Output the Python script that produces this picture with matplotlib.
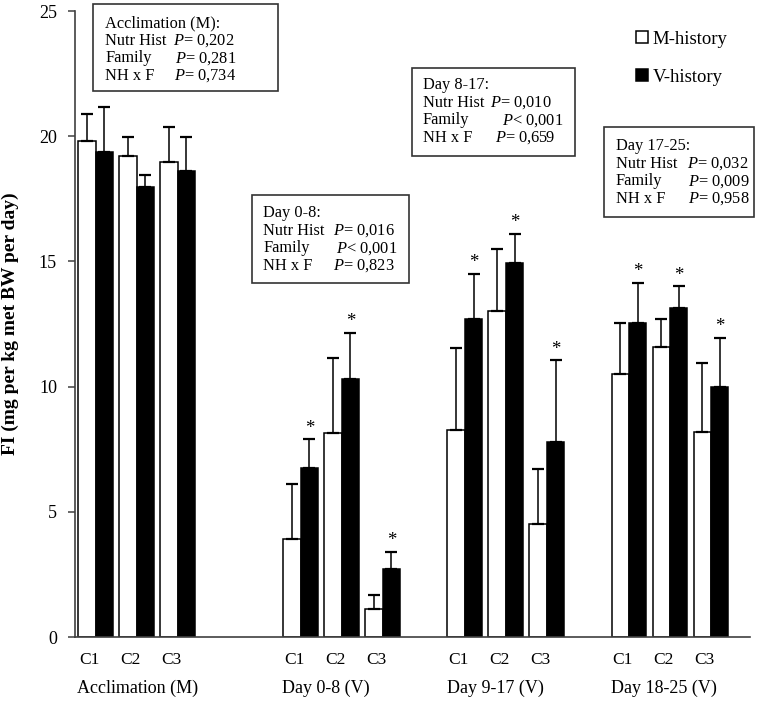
import matplotlib
matplotlib.use("Agg")
import matplotlib.pyplot as plt
from matplotlib.patches import Rectangle
from matplotlib.transforms import blended_transform_factory
import numpy as np

plt.rcParams['font.family'] = ['Liberation Serif', 'DejaVu Serif']
plt.rcParams['mathtext.fontset'] = 'custom'
plt.rcParams['mathtext.rm'] = 'Liberation Serif'
plt.rcParams['mathtext.it'] = 'Liberation Serif:italic'

# ---------------- data ----------------
groups = ["Acclimation (M)", "Day 0-8 (V)", "Day 9-17 (V)", "Day 18-25 (V)"]
families = ["C1", "C2", "C3"]
m_mean = [19.8, 19.2, 18.95, 3.9, 8.15, 1.1, 8.25, 13.0, 4.5, 10.5, 11.6, 8.2]
m_err = [1.1, 0.75, 1.4, 2.2, 3.0, 0.57, 3.3, 2.5, 2.2, 2.05, 1.1, 2.75]
v_mean = [19.35, 17.97, 18.63, 6.75, 10.3, 2.7, 12.7, 14.95, 7.8, 12.55, 13.15, 10.0]
v_err = [1.8, 0.5, 1.35, 1.15, 1.85, 0.7, 1.8, 1.15, 3.25, 1.6, 0.85, 1.95]
signif = [False, False, False, True, True, True, True, True, True, True, True, True]
series_names = ["M-history", "V-history"]
y_ticks = [0, 5, 10, 15, 20, 25]
y_label = "FI (mg per kg met BW per day)"

box_titles = ["Acclimation (M):", "Day 0-8:", "Day 8-17:", "Day 17-25:"]
row_names = ["Nutr Hist", "Family", "NH x F"]
box_ops = [["=", "=", "="], ["=", "<", "="], ["=", "<", "="], ["=", "=", "="]]
box_pvals = [["0,202", "0,281", "0,734"],
             ["0,016", "0,001", "0,823"],
             ["0,010", "0,001", "0,659"],
             ["0,032", "0,009", "0,958"]]

# ---------------- layout ----------------
W, H = 776, 704
fig = plt.figure(figsize=(W / 100, H / 100), dpi=100)
ax_l, ax_r, ax_b, ax_t = 75, 750, 637, 11
ax = fig.add_axes([ax_l / W, 1 - ax_b / H, (ax_r - ax_l) / W, (ax_b - ax_t) / H])

group_start = [0, 5, 9, 13]
pos = np.array([g + k for g in group_start for k in range(3)], dtype=float)
bw = 0.425

ax.bar(pos - bw / 2, m_mean, bw, color="white", edgecolor="black", linewidth=1.1,
       label=series_names[0], zorder=2)
ax.bar(pos + bw / 2, v_mean, bw, color="black", edgecolor="black", linewidth=1.1,
       label=series_names[1], zorder=2)
zeros = np.zeros(len(pos))
ax.errorbar(pos - bw / 2, m_mean, yerr=[zeros, m_err], fmt="none", ecolor="black",
            elinewidth=1.1, capsize=4.5, capthick=1.6, zorder=3)
ax.errorbar(pos + bw / 2, v_mean, yerr=[zeros, v_err], fmt="none", ecolor="black",
            elinewidth=1.1, capsize=4.5, capthick=1.6, zorder=1)
for x, m, e, s in zip(pos + bw / 2, v_mean, v_err, signif):
    if s:
        ax.text(x, m + e + 0.1, "*", ha="center", va="bottom", fontsize=13.5)

ax.set_xlim(-0.5, 15.95)
ax.set_ylim(0, 25)
ax.set_yticks(y_ticks)
ax.set_yticklabels([str(t) for t in y_ticks], fontsize=13)
ax.set_xticks([])
ax.tick_params(axis="y", direction="out", length=5, width=1.1, color="#404040", pad=8)
for s in ["top", "right"]:
    ax.spines[s].set_visible(False)
for s in ["left", "bottom"]:
    ax.spines[s].set_color("#404040")
    ax.spines[s].set_linewidth(1.2)

ax.set_ylabel(y_label, fontsize=14, fontweight="bold")
ax.yaxis.set_label_coords(-0.083, 0.5)

trans = blended_transform_factory(ax.transData, ax.transAxes)
for p, lab in zip(pos, families * 4):
    ax.text(p - 0.16, -0.0367, lab, transform=trans, ha="center", va="center", fontsize=12.5)
for g, lab in zip(group_start, groups):
    ax.text(g - bw - 0.02, -0.0815, lab, transform=trans, ha="left", va="center", fontsize=13)

# legend
leg = ax.legend(loc="upper left", bbox_to_anchor=(636 / W, 1 - 31 / H),
                bbox_transform=fig.transFigure, frameon=False, fontsize=13.5,
                handlelength=0.62, handleheight=0.62, handletextpad=0.25,
                labelspacing=1.12, borderpad=0, borderaxespad=0)

# stats boxes (pixel geometry)
box_rects = [(93, 4, 278, 91), (252, 195, 409, 283), (412, 68, 575, 156), (604, 127, 754, 217)]
first_line = [23, 213, 85, 146]
text_left = [105, 263, 423, 616]
p_offsets = [[68, 70, 69], [70, 73, 70], [67, 79, 72], [71, 72, 72]]
step = 17.6
for b in range(4):
    x0, y0, x1, y1 = box_rects[b]
    fig.patches.append(Rectangle((x0 / W, 1 - y1 / H), (x1 - x0) / W, (y1 - y0) / H,
                                 transform=fig.transFigure, facecolor="white",
                                 edgecolor="#333333", linewidth=1.2, zorder=5))
    ty = first_line[b]
    fig.text(text_left[b] / W, 1 - ty / H, box_titles[b], ha="left", va="center",
             fontsize=11.8, zorder=6)
    for r in range(3):
        yy = 1 - (ty + step * (r + 1)) / H
        fig.text(text_left[b] / W, yy, row_names[r], ha="left", va="center",
                 fontsize=11.8, zorder=6)
        fig.text((text_left[b] + p_offsets[b][r]) / W, yy,
                 r"$\it{P}$" + box_ops[b][r] + " " + box_pvals[b][r],
                 ha="left", va="center", fontsize=11.8, zorder=6)

fig.savefig("out.png", dpi=100)
